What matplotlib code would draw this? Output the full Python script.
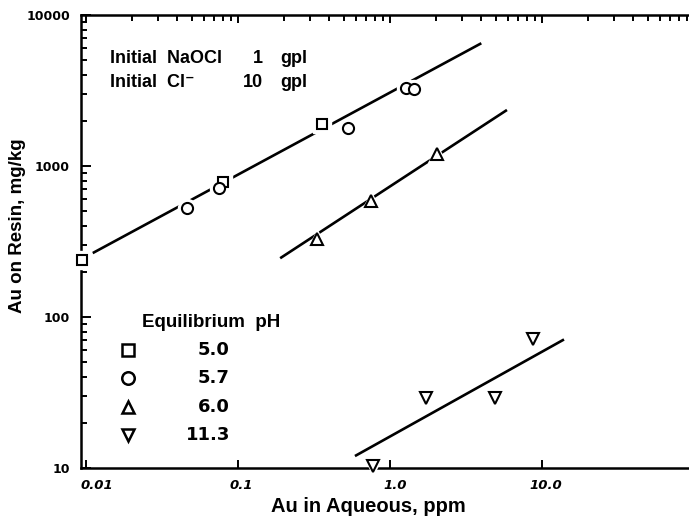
import matplotlib.pyplot as plt
from matplotlib.ticker import LogLocator, NullFormatter, FixedLocator, FixedFormatter
from matplotlib.transforms import ScaledTranslation

plt.rcParams['font.family'] = ['Liberation Sans', 'DejaVu Sans']
plt.rcParams['font.weight'] = 'bold'

# data
sq_x = [0.0095, 0.080, 0.36]
sq_y = [240, 780, 1900]
ci_x = [0.046, 0.075, 0.53, 1.27, 1.44]
ci_y = [530, 720, 1780, 3300, 3250]
tr_x = [0.33, 0.75, 2.05]
tr_y = [330, 590, 1200]
dt_x = [0.78, 1.72, 4.9, 8.8]
dt_y = [10.3, 29, 29, 72]

# fitted lines (end points)
fit1_x = [0.0111, 4.0]
fit1_y = [265, 6500]
fit2_x = [0.19, 5.9]
fit2_y = [245, 2350]
fit3_x = [0.59, 14.0]
fit3_y = [12.0, 71]

legend_vals = ['5.0', '5.7', '6.0', '11.3']
legend_mk = ['s', 'o', '^', 'v']

fig = plt.figure(figsize=(6.89, 5.19), dpi=100)
ax = fig.add_axes([81/689, 1 - 468/519, 608/689, 453/519])
ax.set_xscale('log')
ax.set_yscale('log')
ax.set_xlim(0.0093, 93)
ax.set_ylim(10, 10000)

for fx, fy in [(fit1_x, fit1_y), (fit2_x, fit2_y), (fit3_x, fit3_y)]:
    ax.plot(fx, fy, color='black', lw=1.9, zorder=2, solid_capstyle='butt')

def pts(x, y, m, s=7):
    # white knockout then the open marker
    ax.plot(x, y, ls='none', marker=m, ms=s + 5, mfc='white', mec='white', zorder=3, clip_on=False)
    ax.plot(x, y, ls='none', marker=m, ms=s, mfc='white', mec='black', mew=1.5, zorder=4, clip_on=False)

pts(sq_x, sq_y, 's', 7.5)
pts(ci_x, ci_y, 'o', 8)
pts(tr_x, tr_y, '^', 8)
pts(dt_x, dt_y, 'v', 8)

# spines
for s in ['left', 'top', 'bottom']:
    ax.spines[s].set_linewidth(1.8)
ax.spines['right'].set_visible(False)

ax.tick_params(which='both', direction='in', top=True, right=False, width=1.4)
ax.tick_params(axis='x', which='major', length=6, labelsize=9.5, pad=8)
ax.tick_params(axis='x', which='minor', length=4, bottom=False)
ax.tick_params(axis='y', which='major', length=7, labelsize=9, pad=8)
ax.tick_params(axis='y', which='minor', length=4)
ax.xaxis.set_minor_locator(LogLocator(base=10, subs=range(2, 10)))
ax.yaxis.set_minor_locator(LogLocator(base=10, subs=range(2, 10)))
ax.xaxis.set_minor_formatter(NullFormatter())
ax.yaxis.set_minor_formatter(NullFormatter())
ax.xaxis.set_major_locator(FixedLocator([0.01, 0.1, 1, 10]))
ax.xaxis.set_major_formatter(FixedFormatter(['0.01', '0.1', '1.0', '10.0']))
ax.yaxis.set_major_locator(FixedLocator([10, 100, 1000, 10000]))
ax.yaxis.set_major_formatter(FixedFormatter(['10', '100', '1000', '10000']))
shifts = [11, 3, 5, 4]
for lab, dx in zip(ax.get_xticklabels(), shifts):
    lab.set_family('DejaVu Sans')
    lab.set_fontstyle('italic')
    lab.set_fontweight('bold')
    lab.set_transform(lab.get_transform() + ScaledTranslation(dx / 100, 0, fig.dpi_scale_trans))
for lab in ax.get_yticklabels():
    lab.set_family('DejaVu Sans')
    lab.set_fontweight('bold')

ax.set_xlabel('Au in Aqueous, ppm', fontsize=14.5, fontweight='bold')
ax.set_ylabel('Au on Resin, mg/kg', fontsize=13.5, fontweight='bold')
ax.xaxis.set_label_coords(0.472, -0.063)
ax.yaxis.set_label_coords(-0.09, 0.534)

# conditions text
fs = 13
ax.text(0.048, 0.905, 'Initial  NaOCl', transform=ax.transAxes, fontsize=fs, va='center')
ax.text(0.299, 0.905, '1', transform=ax.transAxes, fontsize=fs, va='center', ha='right')
ax.text(0.327, 0.905, 'gpl', transform=ax.transAxes, fontsize=fs, va='center')
ax.text(0.048, 0.852, 'Initial  Cl\u207b', transform=ax.transAxes, fontsize=fs, va='center')
ax.text(0.299, 0.852, '10', transform=ax.transAxes, fontsize=fs, va='center', ha='right')
ax.text(0.327, 0.852, 'gpl', transform=ax.transAxes, fontsize=fs, va='center')

# legend
ax.text(0.100, 0.322, 'Equilibrium  pH', transform=ax.transAxes, fontsize=13.5, va='center')
rows = [0.260, 0.199, 0.135, 0.073]
for yy, m, v in zip(rows, legend_mk, legend_vals):
    ax.plot([0.077], [yy], transform=ax.transAxes, ls='none', marker=m, ms=9,
            mfc='white', mec='black', mew=1.8)
    ax.text(0.245, yy, v, transform=ax.transAxes, fontsize=13, va='center', ha='right',
            family='DejaVu Sans')

fig.savefig('out.png', dpi=100)
